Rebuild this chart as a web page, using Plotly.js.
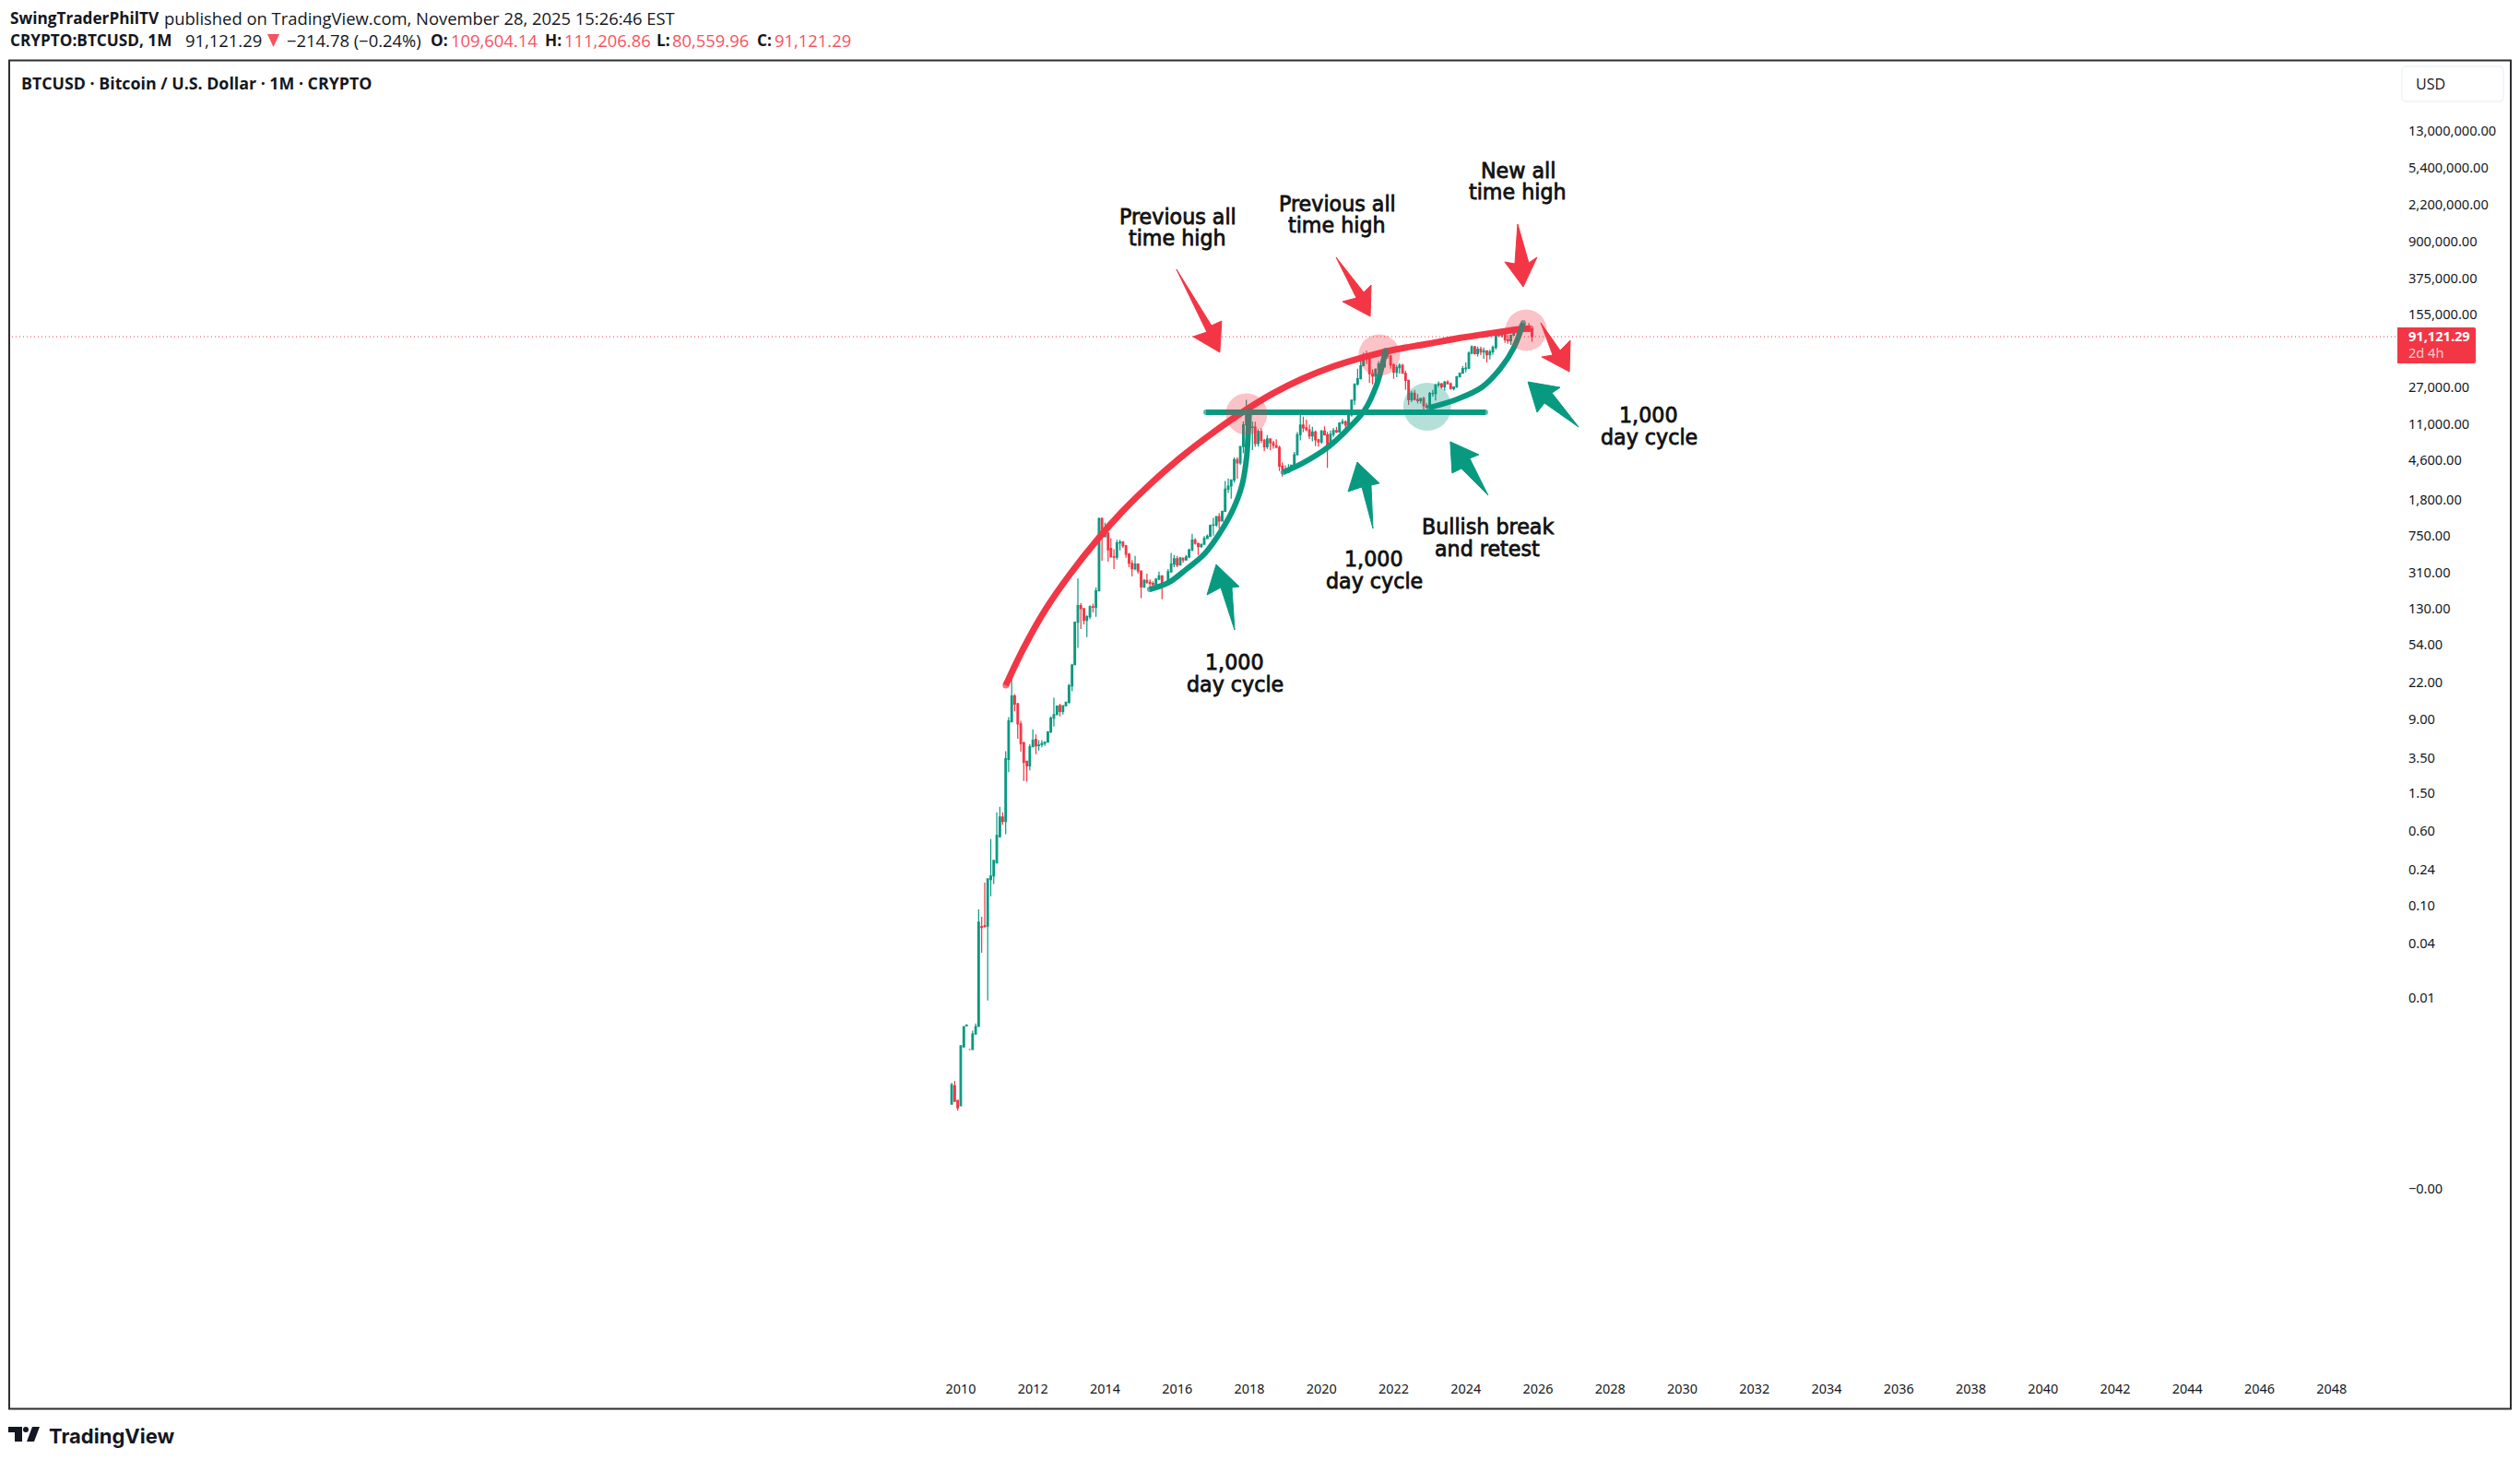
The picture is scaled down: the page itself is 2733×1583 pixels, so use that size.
<!DOCTYPE html>
<html><head><meta charset="utf-8">
<script src="https://cdn.plot.ly/plotly-3.0.1.min.js"></script>
<style>html,body{margin:0;padding:0;background:#fff}#chart{width:2733px;height:1583px}</style></head><body><div id="chart"></div>
<script>
// ---- monthly candles, first bar Oct 2009 ----
const startYear = 2009, startMonth = 9;
const opens = [
 .00083,.00129,.00091,
 .0008,.0033,.0055,.0031,.0031,.0045,.0054,.0603,.0616,.0607,.187,.204,
 .28,.53,.847,.758,3.4,8.4,15.7,13,8,5.1,3.25,2.9,
 4.6,5.5,4.75,4.85,5,5.15,6.6,9.2,10,12.4,10.8,12.4,
 13.5,20,33.4,93,139,129,97,106,135,133,198,1129,
 732,800,550,450,445,630,640,585,480,385,338,378,
 320,218,254,244,236,230,263,284,230,236,314,377,
 430,368,437,416,448,531,673,624,575,609,700,740,
 963,970,1190,1070,1350,2300,2480,2870,4700,4340,6440,10850,
 14100,10200,10300,6900,9240,7490,6390,7730,7020,6600,6300,4020,
 3740,3450,3810,4100,5270,8570,10820,10080,9630,8300,9150,7570,
 7190,9350,8550,6430,8630,9450,9140,11350,11650,10780,13780,19700,
 29000,33100,45200,58800,57700,37300,35000,41500,47100,43800,61300,57000,
 46200,38500,43200,45500,37650,31800,19950,23300,20000,19420,20490,17170,
 16540,23130,23150,28480,29250,27220,30470,29230,25940,26970,34650,37720,
 42270,42580,61130,71300,60670,67500,62770,64600,58970,63330,70290,96400,
 93400,102400,84400,82550,94200,104600,107100,115750,108250,114050,109604.14];
const highs = [
 .00139,.00145,.00091,
 .0034,.0054,.0055,.0031,.0049,.0058,.0912,.0764,.174,.19,.497,.297,
 .948,1.08,.948,4.13,9.4,32,16.4,13.3,8.6,5.2,3.3,4.9,
 7,6.2,5.4,5.4,5.2,6.7,9.6,15,12.5,13,12.6,13.7,
 21,34,93,266,148,129,110,140,145,215,1163,1165,
 1023,800,705,540,680,680,660,600,495,415,460,385,
 320,265,300,260,250,268,315,285,245,335,494,470,
 460,450,440,470,550,784,704,630,615,740,770,980,
 1153,1200,1290,1360,2800,2980,2900,4980,4980,6470,11800,19800,
 17200,11800,11700,9750,10000,7770,8480,7730,7400,7680,6560,4400,
 4100,4200,4100,5640,9100,13880,13200,12330,10950,10350,9500,7750,
 9570,10500,9180,9470,10070,10380,11440,12480,12070,14100,19880,29300,
 41950,58350,61800,64850,59500,41300,42400,50500,52900,67000,69000,59000,
 47900,45800,48200,47400,40000,31900,24650,25200,22800,20900,21450,18400,
 23950,25250,29200,31000,29830,31400,31800,30200,27500,35200,38000,44700,
 49000,63900,73800,72800,71900,71900,70000,65600,66500,73600,99800,108300,
 109300,102500,95000,95800,112000,110500,123200,124500,117900,126200,111206.86];
const lows = [
 .00083,.00089,.00071,
 .0008,.0033,.0055,.0031,.0031,.0045,.0054,.0321,.0597,.0101,.125,.168,
 .28,.51,.70,.56,2.49,8.3,10.8,5.6,4.1,2.02,1.98,2.6,
 4.58,3.85,4.2,4.55,4.7,5.15,6.4,7.5,9.9,9.6,10,12.2,
 13,17.6,33,50,79,88,65,100,118,106,195,410,
 732,400,440,334,420,525,560,440,350,280,325,300,
 166,212,235,210,225,220,255,162,225,236,305,350,
 350,365,390,415,435,515,605,470,560,600,690,735,
 750,925,890,1060,1340,2100,1830,2700,2970,4130,5500,10400,
 9000,5900,6400,6430,7000,5750,6070,5880,6100,6200,3560,3120,
 3350,3380,3670,4050,5250,7450,9100,9300,7700,7300,6500,6430,
 6860,8400,3850,6150,8130,8900,8970,10950,9850,10380,13200,17600,
 28100,32300,45000,47000,30000,28800,29300,37300,39600,43300,53300,42000,
 32900,34300,37200,37700,25400,17600,18800,19500,18200,18200,15500,16300,
 16500,21400,19570,26950,25880,24800,28900,25300,24900,26550,34100,37600,
 38500,41900,59300,59200,56500,58400,53500,49000,52600,58900,66800,90700,
 89200,78200,76600,74500,93400,98200,105100,107300,107200,102000,80559.96];
const closes = [
 .00132,.00089,.00076,
 .0034,.0054,.0056,.0031,.0045,.0054,.0668,.0589,.0597,.19,.204,.297,
 .543,.847,.758,3.45,8.6,15.7,12.9,8,4.97,3.16,2.9,4.6,
 5.4,4.7,4.8,5,5.15,6.6,9.2,10,12.3,10.8,12.4,13.5,
 20.1,33,93,139,129,97,106,135,133,198,1129,732,
 789,532,450,445,630,640,585,480,385,338,378,320,
 218,254,244,236,230,263,284,230,236,314,377,430,
 368,437,416,448,531,673,624,575,609,700,740,963,
 970,1190,1070,1350,2300,2480,2870,4700,4340,6440,10850,14100,
 10200,10300,6900,9240,7490,6390,7730,7020,6600,6300,4020,3740,
 3450,3810,4100,5270,8570,10820,10080,9630,8300,9150,7570,7190,
 9350,8550,6430,8630,9450,9140,11350,11650,10780,13780,19700,29000,
 33100,45200,58800,57700,37300,35000,41500,47100,43800,61300,57000,46200,
 38500,43200,45500,37650,31800,19950,23300,20000,19420,20490,17170,16540,
 23130,23150,28480,29250,27220,30470,29230,25940,26970,34650,37720,42270,
 42580,61130,71300,60670,67500,62770,64600,58970,63330,70290,96400,93400,
 102400,84400,82550,94200,104600,107100,115750,108250,114050,109600,91121.29];
const lastPrice = 91121.29;

// ---- axis ticks ----
const yearTicks = ["2010","2012","2014","2016","2018","2020","2022","2024","2026","2028","2030","2032","2034","2036","2038","2040","2042","2044","2046","2048"];
const priceTicks = [13e6,5.4e6,2.2e6,9e5,3.75e5,1.55e5,27000,11000,4600,1800,750,310,130,54,22,9,3.5,1.5,.6,.24,.1,.04,.0109,.000108];
const priceLabels = ["13,000,000.00","5,400,000.00","2,200,000.00","900,000.00","375,000.00","155,000.00","27,000.00","11,000.00","4,600.00","1,800.00","750.00","310.00","130.00","54.00","22.00","9.00","3.50","1.50","0.60","0.24","0.10","0.04","0.01","\u22120.00"];

// ---- drawings, in decimal years and price ----
const redArcYears  = [2011.25,2011.74,2012.33,2013.02,2013.83,2014.47,2015.32,2016.16,2017.03,2017.92,2018.64,2019.48,2020.35,2021.19,2022.04,2022.91,2023.75,2024.59,2025.46,2025.79];
const redArcPrices = [20.3,49.4,123,293,713,1330,2740,5170,9210,15700,23000,33100,44700,55800,66700,76200,87100,97500,109000,111000];
const cycle1Years  = [2015.24,2015.75,2016.26,2016.77,2017.18,2017.54,2017.79,2017.92,2017.97,2018.0];
const cycle1Prices = [205,240,335,489,798,1390,2480,4830,9420,15400];
const cycle2Years  = [2018.94,2019.48,2020.17,2020.68,2021.19,2021.53,2021.70,2021.78];
const cycle2Prices = [3460,4320,6310,9420,15400,28700,48800,65300];
const cycle3Years  = [2022.98,2023.75,2024.44,2024.95,2025.33,2025.59];
const cycle3Prices = [16400,20100,26800,41900,69800,127000];
const retestYears  = [2016.80,2024.54];
const retestPrice  = 14700;
const redCircleYears  = [2017.92,2021.60,2025.67];
const redCirclePrices = [14100,58400,106500];
const greenCircleYears  = [2022.93];
const greenCirclePrices = [16800];

const RED = '#F23645', GREEN = '#089981', INK = '#131722', SOFTRED = '#F7525F';
const W = 2733, H = 1583;
const PL = 10, PR = 2600, PT = 66, PB = 1490;
const K = 103.5, LOGLAST = Math.log10(lastPrice), YLAST = 365;

function yd(y){ // decimal year -> date string
  const yr = Math.floor(y), a = Date.UTC(yr,0,1), b = Date.UTC(yr+1,0,1);
  return new Date(a+(y-yr)*(b-a)).toISOString().slice(0,19).replace('T',' ');
}
const px = v => (v-PL)/(PR-PL);
const py = v => (PB-v)/(PB-PT);
const months = opens.map((_,i)=> new Date(Date.UTC(startYear,startMonth+i,1)).toISOString().slice(0,10));

const caps = (n,w)=> Array.from({length:n},(_,i)=> (i===0||i===n-1)? w:0);
function arc(xs,ys,color,w){
  return {type:'scatter',mode:'lines+markers',x:xs.map(yd),y:ys,
    line:{color,width:w,shape:'spline',smoothing:1},
    marker:{color,size:caps(xs.length,w),line:{width:0}},hoverinfo:'skip',showlegend:false};
}
const traces = [
 {type:'scatter',mode:'lines',x:[yd(1983.6),yd(2049.9)],y:[lastPrice,lastPrice],
  line:{color:RED,width:1,dash:'1px,3px'},hoverinfo:'skip',showlegend:false},
 {type:'candlestick',x:months,open:opens,high:highs,low:lows,close:closes,
  increasing:{line:{color:GREEN,width:1.2},fillcolor:GREEN},
  decreasing:{line:{color:RED,width:1.2},fillcolor:RED},
  whiskerwidth:0,showlegend:false,hoverinfo:'skip'},
 arc(redArcYears,redArcPrices,RED,7),
 arc(cycle1Years,cycle1Prices,GREEN,6),
 arc(cycle2Years,cycle2Prices,GREEN,6),
 arc(cycle3Years,cycle3Prices,GREEN,6),
 arc(retestYears,[retestPrice,retestPrice],GREEN,6),
 {type:'scatter',mode:'markers',x:redCircleYears.map(yd),y:redCirclePrices,
  marker:{size:45,color:'rgba(242,54,69,0.3)',line:{width:0}},hoverinfo:'skip',showlegend:false},
 {type:'scatter',mode:'markers',x:greenCircleYears.map(yd),y:greenCirclePrices,
  marker:{size:52,color:'rgba(8,153,129,0.3)',line:{width:0}},hoverinfo:'skip',showlegend:false}
];

// arrows: tip in year/price, outline as pixel offsets from the tip (up positive)
const arrows = [
 {year:2017.08,price:374,   color:GREEN,pts:[[0,0],[25,-24],[17,-25],[20,-71],[5,-25],[-10,-33]]},
 {year:2020.99,price:4420,  color:GREEN,pts:[[0,0],[24,-23],[15,-25],[17,-72],[5,-27],[-10,-32]]},
 {year:2023.57,price:7220,  color:GREEN,pts:[[0,0],[31,-14],[21,-18],[41,-58],[12,-29],[2,-34]]},
 {year:2025.72,price:30600, color:GREEN,pts:[[0,0],[35,-6],[26,-12],[55,-49],[18,-23],[10,-33]]},
 {year:2017.18,price:62400, color:RED,  pts:[[0,0],[2,34],[-9,29],[-47,90],[-14,22],[-29,17]]},
 {year:2021.35,price:148600,color:RED,  pts:[[0,0],[1,34],[-7,26],[-37,64],[-15,20],[-30,16]]},
 {year:2025.59,price:303000,color:RED,  pts:[[0,0],[15,32],[6,26],[-6,68],[-9,25],[-20,27]]},
 {year:2026.87,price:39100, color:RED,  pts:[[0,0],[1,34],[-10,23],[-31,53],[-18,18],[-30,16]]}
];
const shapes = arrows.map(a=>({type:'path',xref:'x',yref:'y',xsizemode:'pixel',ysizemode:'pixel',
  xanchor:yd(a.year),yanchor:a.price,
  path:'M '+a.pts.map(p=>p[0]+' '+p[1]).join(' L ')+' Z',
  fillcolor:a.color,line:{color:a.color,width:1},layer:'above'}));

function paperPath(d,fill,lineColor,lw){
  const s = d.replace(/(-?[\d.]+) (-?[\d.]+)/g,(m,a,b)=>px(+a).toFixed(6)+' '+py(+b).toFixed(6));
  return {type:'path',xref:'paper',yref:'paper',path:s,fillcolor:fill,line:{color:lineColor||fill,width:lw===undefined?0:lw},layer:'above'};
}
// frame
shapes.push(paperPath('M 10 65.5 L 2723 65.5 L 2723 1527.5 L 10 1527.5 Z','rgba(0,0,0,0)','#2E2E2E',2));
// USD box
shapes.push(paperPath('M 2610 72 L 2710 72 Q 2715 72 2715 77 L 2715 105 Q 2715 110 2710 110 L 2610 110 Q 2605 110 2605 105 L 2605 77 Q 2605 72 2610 72 Z','#ffffff','#F0F3FA',1.5));
// last price tag
shapes.push(paperPath('M 2600 355 L 2683 355 Q 2685 355 2685 357 L 2685 392 Q 2685 394 2683 394 L 2600 394 Z',RED));
// header down triangle
shapes.push(paperPath('M 290 37 L 303 37 L 296.5 51 Z',SOFTRED));
// TradingView mark
shapes.push(paperPath('M 9 1547 L 24 1547 L 24 1563 L 16 1563 L 16 1553 L 9 1553 Z',INK));
shapes.push(paperPath('M 25 1550 Q 25 1547 28 1547 Q 31 1547 31 1550 Q 31 1553 28 1553 Q 25 1553 25 1550 Z',INK));
shapes.push(paperPath('M 35 1547 L 43 1547 L 37 1563 L 29 1563 Z',INK));

const DRAW = 'DejaVu Sans', UI = 'Open Sans', AX = 'Noto Sans';
function note(text,x,y,font,anchor){
  return {xref:'paper',yref:'paper',x:px(x),y:py(y),text,showarrow:false,
    xanchor:anchor||'left',yanchor:'middle',font};
}
const labels = [
 ['Previous all',1277,234.5],['time high',1277,258],
 ['Previous all',1450,221],['time high',1450,244],
 ['New all',1646,184.5],['time high',1646,208],
 ['1,000',1339,718],['day cycle',1339,742],
 ['1,000',1490,606],['day cycle',1490,630],
 ['1,000',1788,450],['day cycle',1788,473.5],
 ['Bullish break',1613,570.5],['and retest',1613,594.5]
];
const annotations = labels.map(l=>note(l[0],l[1],l[2],{family:DRAW,size:22.2,color:'#111'},'center'));
const nf = {family:UI,size:18.4,color:INK}, bf = {family:UI,size:17.2,color:INK,weight:700}, rf = {family:UI,size:18.4,color:SOFTRED};
const header = [
 ['SwingTraderPhilTV',8.5,19,bf],['published on TradingView.com, November 28, 2025 15:26:46 EST',176,19,nf],
 ['CRYPTO:BTCUSD, 1M',8.5,43,bf],['91,121.29',199,43,nf],['\u2212214.78 (\u22120.24%)',309,43,nf],
 ['O:',465,43,bf],['109,604.14',487,43,rf],['H:',589,43,bf],['111,206.86',610,43,rf],
 ['L:',710,43,bf],['80,559.96',727,43,rf],['C:',819,43,bf],['91,121.29',838,43,rf],
 ['BTCUSD \u00B7 Bitcoin / U.S. Dollar \u00B7 1M \u00B7 CRYPTO',21,90,{family:UI,size:17.8,color:INK,weight:700}],
 ['USD',2618,91,{family:UI,size:16,color:INK}],
 ['91,121.29',2610,364,{family:AX,size:14.6,color:'#fff',weight:700}],
 ['2d 4h',2610,382,{family:AX,size:14.6,color:'#FCCBCD'}],
 ['TradingView',51,1557,{family:'Inter',size:22,color:INK,weight:700}]
];
header.forEach(h=>annotations.push(note(h[0],h[1],h[2],h[3])));

const layout = {
 width:W,height:H,paper_bgcolor:'#fff',plot_bgcolor:'#fff',showlegend:false,
 margin:{l:PL,r:W-PR,t:PT,b:H-PB,pad:0},
 boxgap:0.22,
 xaxis:{type:'date',range:[yd(1983.627),yd(2049.82)],rangeslider:{visible:false},
  tickmode:'array',tickvals:yearTicks.map(y=>y+'-01-01'),ticktext:yearTicks,showgrid:false,zeroline:false,showline:false,
  ticks:'outside',ticklen:3,tickcolor:'rgba(0,0,0,0)',tickfont:{family:AX,size:14.4,color:INK}},
 yaxis:{type:'log',side:'right',range:[LOGLAST-(PB-YLAST)/K,LOGLAST+(YLAST-PT)/K],
  tickmode:'array',tickvals:priceTicks,ticktext:priceLabels,showgrid:false,zeroline:false,showline:false,
  ticks:'outside',ticklen:8,tickcolor:'rgba(0,0,0,0)',tickfont:{family:AX,size:14.6,color:INK}},
 shapes,annotations,hovermode:false
};
// heavier drawing text, as in the reference
const st = document.createElement('style');
st.textContent = labels.map((_,i)=>`g.annotation[data-index="${i}"] text`).join(',')+'{stroke:#111;stroke-width:0.8px}';
document.head.appendChild(st);
Plotly.newPlot('chart',traces,layout,{displayModeBar:false,staticPlot:true});
</script></body></html>
